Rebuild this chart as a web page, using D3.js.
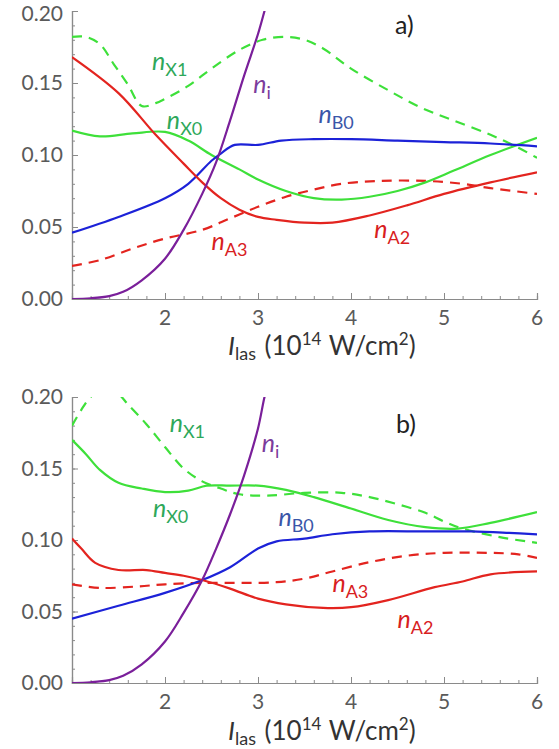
<!DOCTYPE html>
<html>
<head>
<meta charset="utf-8">
<script src="https://cdn.jsdelivr.net/npm/d3@7"></script>
<style>
  html, body { margin: 0; padding: 0; background: #fff; }
  svg { display: block; font-family: Lato, "Open Sans", sans-serif; }
</style>
</head>
<body>
<svg id="chart" width="559" height="749"></svg>
<script>
// Laser intensity axis (10^14 W/cm^2)
const xTicks = [2, 3, 4, 5, 6];
const yTicks = [0.00, 0.05, 0.10, 0.15, 0.20];

// Panel a) populations vs intensity
const aX0 = [[1.0,0.117],[1.3,0.113],[1.65,0.115],[2.0,0.116],[2.25,0.110],[2.5,0.100],[2.8,0.090],[3.0,0.083],[3.3,0.075],[3.6,0.070],[3.9,0.069],[4.2,0.071],[4.5,0.075],[4.8,0.081],[5.1,0.089],[5.5,0.100],[6.0,0.112]];
const aX1 = [[1.0,0.182],[1.15,0.182],[1.3,0.177],[1.45,0.163],[1.6,0.149],[1.75,0.134],[1.9,0.136],[2.0,0.139],[2.25,0.148],[2.5,0.160],[2.8,0.173],[3.05,0.180],[3.3,0.182],[3.5,0.180],[3.7,0.174],[4.0,0.160],[4.4,0.145],[4.75,0.133],[5.1,0.124],[5.5,0.114],[5.8,0.105],[6.0,0.098]];
const aB0 = [[1.0,0.046],[1.5,0.057],[2.0,0.070],[2.25,0.080],[2.5,0.096],[2.6,0.101],[2.75,0.107],[3.0,0.107],[3.25,0.110],[3.6,0.111],[4.0,0.111],[4.5,0.110],[5.0,0.109],[5.5,0.108],[6.0,0.106]];
const aA2 = [[1.0,0.168],[1.5,0.143],[1.9,0.114],[2.2,0.094],[2.4,0.081],[2.6,0.070],[2.8,0.062],[3.0,0.057],[3.2,0.055],[3.5,0.053],[3.8,0.053],[4.2,0.058],[4.6,0.065],[5.0,0.073],[5.5,0.081],[6.0,0.088]];
const aA3 = [[1.0,0.023],[1.3,0.027],[1.65,0.035],[2.0,0.042],[2.4,0.048],[2.7,0.056],[3.0,0.064],[3.3,0.071],[3.6,0.076],[3.9,0.080],[4.3,0.082],[4.8,0.082],[5.2,0.080],[5.5,0.077],[6.0,0.073]];
const aI  = [[1.0,0.0],[1.2,0.0005],[1.4,0.002],[1.55,0.005],[1.75,0.013],[2.0,0.028],[2.2,0.048],[2.4,0.073],[2.55,0.095],[2.7,0.124],[2.85,0.155],[3.0,0.184],[3.07,0.2],[3.12,0.212]];

// Panel b)
const bX0 = [[1.0,0.170],[1.15,0.160],[1.3,0.149],[1.5,0.140],[1.75,0.136],[2.0,0.1335],[2.25,0.1345],[2.45,0.138],[2.7,0.138],[3.0,0.138],[3.3,0.135],[3.6,0.130],[4.0,0.122],[4.4,0.114],[4.8,0.109],[5.15,0.108],[5.5,0.112],[6.0,0.1195]];
const bX1 = [[1.0,0.180],[1.1,0.191],[1.2,0.200],[1.35,0.206],[1.5,0.202],[1.6,0.195],[1.8,0.181],[2.0,0.165],[2.2,0.150],[2.4,0.141],[2.6,0.136],[2.8,0.132],[3.1,0.131],[3.5,0.133],[3.9,0.133],[4.2,0.130],[4.5,0.125],[4.8,0.119],[5.0,0.113],[5.2,0.108],[5.6,0.102],[6.0,0.098]];
const bB0 = [[1.0,0.045],[1.5,0.054],[2.0,0.063],[2.4,0.072],[2.7,0.081],[3.0,0.094],[3.2,0.099],[3.5,0.101],[3.8,0.104],[4.2,0.106],[4.8,0.106],[5.3,0.106],[5.7,0.105],[6.0,0.104]];
const bA2 = [[1.0,0.101],[1.1,0.094],[1.25,0.084],[1.5,0.079],[1.8,0.079],[2.0,0.077],[2.2,0.075],[2.4,0.072],[2.7,0.066],[3.0,0.059],[3.3,0.055],[3.7,0.0525],[4.0,0.053],[4.4,0.058],[4.9,0.067],[5.2,0.071],[5.5,0.076],[6.0,0.078]];
const bA3 = [[1.0,0.069],[1.3,0.0665],[1.7,0.0675],[2.0,0.069],[2.4,0.070],[2.8,0.070],[3.2,0.0705],[3.5,0.073],[3.8,0.078],[4.2,0.0845],[4.6,0.089],[5.0,0.091],[5.5,0.091],[5.8,0.090],[6.0,0.0875]];
const bI  = [[1.0,0.0],[1.2,0.0005],[1.4,0.002],[1.55,0.005],[1.75,0.013],[2.0,0.029],[2.2,0.049],[2.4,0.072],[2.55,0.094],[2.7,0.118],[2.85,0.145],[3.0,0.178],[3.07,0.2],[3.12,0.212]];

const colors = {
  green: "#3ee03a", blue: "#1c22d8", red: "#e3241f", purple: "#7a1f9a",
  greenText: "#2ea85a", blueText: "#3a56a8", redText: "#d8201e", purpleText: "#7b3c9c"
};

const panels = [
  {
    id: "a", top: 11, bottom: 299, tag: "a)", tagPos: [395, 34], xLabelY: 355,
    series: [
      { data: aX1, color: colors.green, dash: true },
      { data: aA3, color: colors.red, dash: true },
      { data: aX0, color: colors.green },
      { data: aB0, color: colors.blue },
      { data: aA2, color: colors.red },
      { data: aI,  color: colors.purple }
    ],
    labels: [
      { sub: "X1", x: 1.86, y: 0.159, color: colors.greenText },
      { sub: "X0", x: 2.02, y: 0.118, color: colors.greenText },
      { sub: "i",  x: 2.95, y: 0.143, color: colors.purpleText },
      { sub: "B0", x: 3.65, y: 0.122, color: colors.blueText },
      { sub: "A3", x: 2.5,  y: 0.034, color: colors.redText },
      { sub: "A2", x: 4.25, y: 0.0425, color: colors.redText }
    ]
  },
  {
    id: "b", top: 397, bottom: 683, tag: "b)", tagPos: [396, 433], xLabelY: 740,
    series: [
      { data: bX1, color: colors.green, dash: true },
      { data: bA3, color: colors.red, dash: true },
      { data: bX0, color: colors.green },
      { data: bB0, color: colors.blue },
      { data: bA2, color: colors.red },
      { data: bI,  color: colors.purple }
    ],
    labels: [
      { sub: "X1", x: 2.05, y: 0.1755, color: colors.greenText },
      { sub: "X0", x: 1.87, y: 0.116, color: colors.greenText },
      { sub: "i",  x: 3.04, y: 0.1615, color: colors.purpleText },
      { sub: "B0", x: 3.22, y: 0.110, color: colors.blueText },
      { sub: "A3", x: 3.8,  y: 0.0635, color: colors.redText },
      { sub: "A2", x: 4.5,  y: 0.0385, color: colors.redText }
    ]
  }
];

const svg = d3.select("#chart");
const left = 72, right = 537;
const x = d3.scaleLinear().domain([1, 6]).range([left, right]);
const axisColor = "#8a8a8a", tickText = "#5a5a5a";

panels.forEach(p => {
  const y = d3.scaleLinear().domain([0, 0.2]).range([p.bottom, p.top]);
  const g = svg.append("g");

  g.append("clipPath").attr("id", "clip-" + p.id)
    .append("rect").attr("x", left).attr("y", p.top)
    .attr("width", right - left).attr("height", p.bottom - p.top);

  // minor ticks (inward)
  const yMinor = d3.range(0, 0.2001, 0.01);
  const xMinor = d3.range(1, 6.001, 0.2);
  g.append("g").call(
    d3.axisRight(y).tickValues(yMinor).tickSize(3).tickFormat("")
  ).attr("transform", `translate(${left},0)`);
  g.append("g").call(
    d3.axisTop(x).tickValues(xMinor).tickSize(3).tickFormat("")
  ).attr("transform", `translate(0,${p.bottom})`);

  // major ticks
  g.append("g").attr("transform", `translate(${left},0)`)
    .call(d3.axisRight(y).tickValues(yTicks).tickSize(6).tickFormat(""));
  g.append("g").attr("transform", `translate(0,${p.bottom})`)
    .call(d3.axisTop(x).tickValues([1].concat(xTicks)).tickSize(6).tickFormat(""));

  g.selectAll(".domain").attr("stroke", axisColor).attr("stroke-width", 1.2);
  g.selectAll(".tick line").attr("stroke", axisColor).attr("stroke-width", 1);

  // tick labels (the top one is kept inside the page)
  g.selectAll(".ylab").data(yTicks).join("text")
    .attr("x", left - 9).attr("y", d => Math.max(y(d) + 7, 21))
    .attr("text-anchor", "end").attr("font-size", 21)
    .attr("fill", tickText).text(d => d.toFixed(2));
  g.selectAll(".xlab").data(xTicks).join("text")
    .attr("x", d => x(d)).attr("y", p.bottom + 26)
    .attr("text-anchor", "middle").attr("font-size", 21)
    .attr("fill", tickText).text(d => d);

  // axis title
  const t = g.append("text").attr("x", 228).attr("y", p.xLabelY)
    .attr("font-size", 26).attr("fill", "#333");
  t.append("tspan").attr("font-style", "italic").text("I");
  t.append("tspan").attr("font-size", 18).attr("dy", 5).text("las");
  t.append("tspan").attr("dy", -5).attr("dx", 2).text(" (10");
  t.append("tspan").attr("font-size", 17).attr("dy", -10).text("14");
  t.append("tspan").attr("dy", 10).attr("dx", 1).text(" W/cm");
  t.append("tspan").attr("font-size", 17).attr("dy", -10).text("2");
  t.append("tspan").attr("dy", 10).text(")");

  // curves
  const line = d3.line().x(d => x(d[0])).y(d => y(d[1])).curve(d3.curveCatmullRom.alpha(0.5));
  const lines = g.append("g").attr("clip-path", `url(#clip-${p.id})`);
  p.series.forEach(s => {
    lines.append("path").attr("d", line(s.data))
      .attr("fill", "none").attr("stroke", s.color).attr("stroke-width", 2.2)
      .attr("stroke-dasharray", s.dash ? "10,7" : null)
      .attr("stroke-linejoin", "round");
  });

  // curve labels
  p.labels.forEach(l => {
    const lt = g.append("text").attr("x", x(l.x)).attr("y", y(l.y))
      .attr("font-size", 25).attr("fill", l.color);
    lt.append("tspan").attr("font-style", "italic").text("n");
    lt.append("tspan").attr("font-size", 18).attr("dy", 6).text(l.sub);
  });

  // panel tag
  g.append("text").attr("x", p.tagPos[0]).attr("y", p.tagPos[1])
    .attr("font-size", 25).attr("fill", "#222").text(p.tag);
});
</script>
</body>
</html>
